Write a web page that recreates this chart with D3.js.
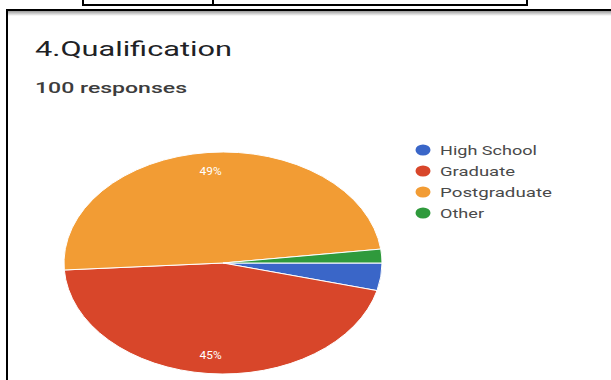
<!DOCTYPE html>
<html>
<head>
<meta charset="utf-8">
<script src="https://cdn.jsdelivr.net/npm/d3@7"></script>
<style>
  html, body { margin: 0; padding: 0; background: #ffffff; }
  svg { display: block; }
  text { font-family: Roboto, "Noto Sans", sans-serif; }
</style>
</head>
<body>
<svg id="chart" width="611" height="380"></svg>
<script>
// Survey question 4: qualification of respondents
const categories = ["High School", "Graduate", "Postgraduate", "Other"];
const values = [4, 45, 49, 2];
const colors = ["#3a66c8", "#d8462a", "#f29c34", "#2f9a3c"];
const title = "4.Qualification";
const subtitle = "100 responses";

const W = 611, H = 380;
const svg = d3.select("#chart");

// Form-card frame: surrounding table rule and card border
const frame = svg.append("g");
const grad = svg.append("defs").append("linearGradient")
  .attr("id", "topShade").attr("x1", 0).attr("y1", 0).attr("x2", 0).attr("y2", 1);
grad.append("stop").attr("offset", "0%").attr("stop-color", "#9a9a9a");
grad.append("stop").attr("offset", "100%").attr("stop-color", "#ffffff");
frame.append("rect").attr("x", 8).attr("y", 11).attr("width", W - 8).attr("height", 5)
  .attr("fill", "url(#topShade)");
frame.append("line").attr("x1", 7).attr("x2", W).attr("y1", 10).attr("y2", 10)
  .attr("stroke", "#000").attr("stroke-width", 2);
frame.append("line").attr("x1", 7).attr("x2", 7).attr("y1", 9).attr("y2", H)
  .attr("stroke", "#000").attr("stroke-width", 2);
// table row above the card
frame.append("line").attr("x1", 82).attr("x2", 528).attr("y1", 5).attr("y2", 5)
  .attr("stroke", "#000").attr("stroke-width", 2);
[83, 213, 527].forEach(x => {
  frame.append("line").attr("x1", x).attr("x2", x).attr("y1", 0).attr("y2", 6)
    .attr("stroke", "#000").attr("stroke-width", 2);
});

// Headings
svg.append("text").attr("x", 35).attr("y", 56)
  .attr("font-size", 20).attr("fill", "#202124")
  .attr("textLength", 197).attr("lengthAdjust", "spacingAndGlyphs")
  .text(title);
svg.append("text").attr("x", 35).attr("y", 93)
  .attr("font-size", 15).attr("font-weight", 500).attr("fill", "#3c3c3c")
  .attr("textLength", 152).attr("lengthAdjust", "spacingAndGlyphs")
  .text(subtitle);

// Pie, drawn on a unit circle and stretched into an ellipse
const cx = 223, cy = 263, rx = 159, ry = 111;
const pie = d3.pie().sort(null).value(d => d)
  .startAngle(Math.PI / 2).endAngle(Math.PI / 2 + 2 * Math.PI);
const arcs = pie(values);
const arc = d3.arc().innerRadius(0).outerRadius(ry);
const labelArc = d3.arc().innerRadius(ry * 0.83).outerRadius(ry * 0.83);

const pieG = svg.append("g")
  .attr("transform", `translate(${cx},${cy}) scale(${rx / ry},1)`);
pieG.selectAll("path").data(arcs).join("path")
  .attr("d", arc)
  .attr("fill", (d, i) => colors[i])
  .attr("stroke", "#ffffff")
  .attr("stroke-width", 1)
  .attr("vector-effect", "non-scaling-stroke");

// Percentage labels on the large slices
svg.append("g").selectAll("text")
  .data(arcs.filter(d => d.value / d3.sum(values) >= 0.1)).join("text")
  .attr("x", d => cx + labelArc.centroid(d)[0] * rx / ry)
  .attr("y", d => cy + labelArc.centroid(d)[1])
  .attr("dy", "0.35em")
  .attr("text-anchor", "middle")
  .attr("font-size", 11)
  .attr("fill", "#ffffff")
  .attr("textLength", 22).attr("lengthAdjust", "spacingAndGlyphs")
  .text(d => Math.round(d.value / d3.sum(values) * 100) + "%");

// Legend
const legendWidths = [97, 75, 112, 44];
const legY = d3.scalePoint().domain(categories).range([150, 213]);
const leg = svg.append("g");
const items = leg.selectAll("g").data(categories).join("g")
  .attr("transform", d => `translate(0,${legY(d)})`);
items.append("ellipse").attr("cx", 423).attr("cy", 0).attr("rx", 7.5).attr("ry", 5.5)
  .attr("fill", (d, i) => colors[i]);
items.append("text").attr("x", 440).attr("y", 0).attr("dy", "0.35em")
  .attr("font-size", 13).attr("fill", "#4a4a4a")
  .attr("textLength", (d, i) => legendWidths[i]).attr("lengthAdjust", "spacingAndGlyphs")
  .text(d => d);
</script>
</body>
</html>
